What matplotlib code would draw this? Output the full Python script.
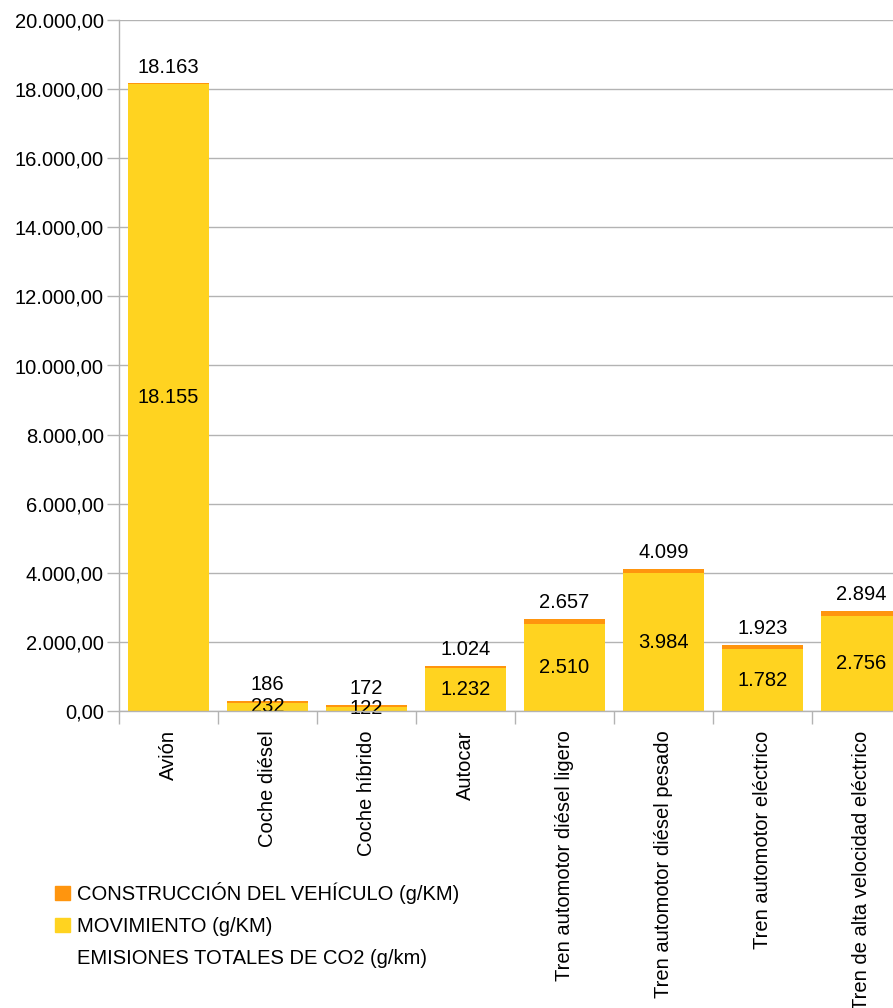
import matplotlib
matplotlib.use("Agg")
import matplotlib.pyplot as plt
from matplotlib.patches import Patch
from matplotlib.ticker import FuncFormatter, MultipleLocator, FixedLocator
import numpy as np

plt.rcParams['font.family'] = ['Liberation Sans', 'DejaVu Sans']

categories = ["Avión", "Coche diésel", "Coche híbrido", "Autocar",
              "Tren automotor diésel ligero", "Tren automotor diésel pesado",
              "Tren automotor eléctrico", "Tren de alta velocidad eléctrico"]
movimiento = [18155, 232, 122, 1232, 2510, 3984, 1782, 2756]
construccion = [8, 50, 50, 70, 147, 115, 141, 138]
totales = [18163, 186, 172, 1024, 2657, 4099, 1923, 2894]

col_mov = "#ffd320"
col_con = "#ff950e"
grid_col = "#b3b3b3"
fs = 14.5


def es_num(v, dec=0):
    s = f"{v:,.{dec}f}"
    return s.replace(",", "X").replace(".", ",").replace("X", ".")


fig = plt.figure(figsize=(8.93, 10.08), dpi=100)
ax = fig.add_axes([119 / 893, 297 / 1008, 792 / 893, 691 / 1008])

x = np.arange(len(categories))
ax.bar(x, movimiento, width=0.81, color=col_mov, zorder=3)
ax.bar(x, construccion, width=0.81, bottom=movimiento, color=col_con, zorder=3)

for i in range(len(categories)):
    ax.text(x[i], movimiento[i] / 2, es_num(movimiento[i]), ha="center", va="center",
            fontsize=fs, zorder=4)
    ax.annotate(es_num(totales[i]), (x[i], movimiento[i] + construccion[i]),
                xytext=(0, 5), textcoords="offset points", ha="center", va="bottom",
                fontsize=fs, zorder=4)

ax.set_xlim(-0.5, len(categories) - 0.5)
ax.set_ylim(0, 20000)
ax.yaxis.set_major_locator(MultipleLocator(2000))
ax.yaxis.set_major_formatter(FuncFormatter(lambda v, p: es_num(v, 2)))
ax.grid(axis="y", color=grid_col, linewidth=1, zorder=0)

ax.set_xticks(x)
ax.set_xticklabels(categories, rotation=90, fontsize=fs)
ax.tick_params(axis="x", length=0, pad=14)
ax.xaxis.set_minor_locator(FixedLocator(np.arange(len(categories) + 1) - 0.5))
ax.tick_params(axis="x", which="minor", length=9, color=grid_col, width=1)
ax.tick_params(axis="y", length=9, color=grid_col, width=1, labelsize=fs, pad=2)

for s in ["top", "right"]:
    ax.spines[s].set_visible(False)
for s in ["left", "bottom"]:
    ax.spines[s].set_color(grid_col)
    ax.spines[s].set_linewidth(1)
    ax.spines[s].set_zorder(5)

handles = [Patch(color=col_con), Patch(color=col_mov), Patch(color="none")]
labels = ["CONSTRUCCIÓN DEL VEHÍCULO (g/KM)", "MOVIMIENTO (g/KM)",
          "EMISIONES TOTALES DE CO2 (g/km)"]
fig.legend(handles, labels, loc="upper left", bbox_to_anchor=(55 / 893, 1 - 882 / 1008),
           frameon=False, fontsize=fs, handlelength=0.75, handleheight=0.75,
           handletextpad=0.35, labelspacing=0.65, borderaxespad=0, borderpad=0)

fig.savefig("out.png", dpi=100)
